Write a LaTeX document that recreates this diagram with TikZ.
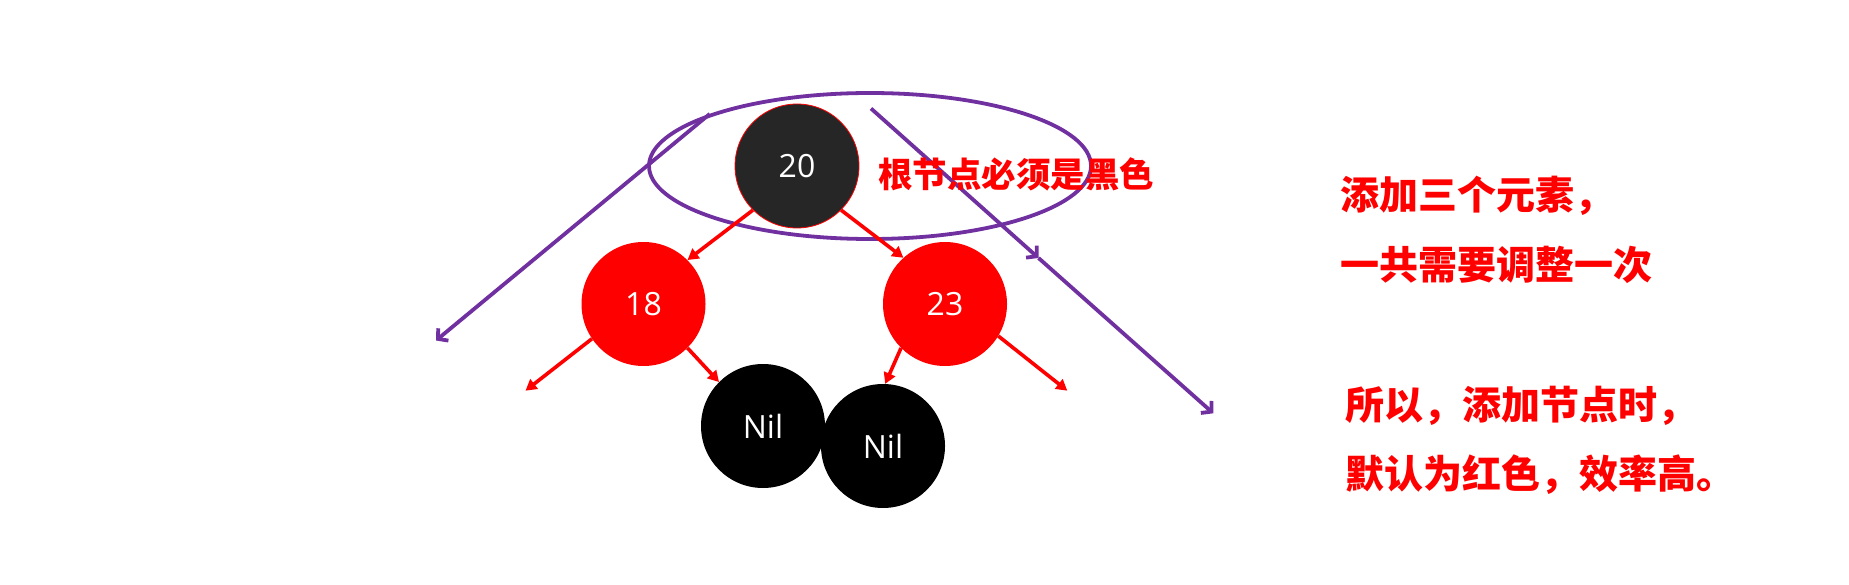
\documentclass[tikz,border=0pt]{standalone}
\usepackage{fontspec}
\newfontfamily\cjk{Noto Sans CJK SC}
\newfontfamily\numfont{Open Sans}
\usetikzlibrary{arrows.meta,shapes.geometric}
\definecolor{pptpurple}{HTML}{7030A0}
\definecolor{rootgray}{HTML}{262626}
\tikzset{
  treenode/.style={circle,minimum size=124pt,inner sep=0pt,text=white,font=\numfont\fontsize{32pt}{36pt}\selectfont},
  redarrow/.style={draw=red,line width=3.6pt,-{Triangle[length=11pt,width=12pt]}},
  purplearrow/.style={draw=pptpurple,line width=3.8pt,-{Straight Barb[length=7pt,width=16pt]}},
  note/.style={anchor=west,inner sep=0pt,text=red,font=\cjk\bfseries\fontsize{39pt}{44pt}\selectfont}
}
\begin{document}
\begin{tikzpicture}[x=1pt,y=-1pt]
\useasboundingbox (0,0) rectangle (1849,585);
% nodes
\node[treenode,fill=rootgray,draw=red,line width=0.8pt] (n20) at (797,166) {20};
\node[treenode,fill=red] (n18) at (643.5,304) {18};
\node[treenode,fill=red] (n23) at (945,304) {23};
\node[treenode,fill=black] (nil1) at (763,426) {Nil};
\node[treenode,fill=black] (nil2) at (883,446) {Nil};
\node[ellipse,draw=pptpurple,line width=3.8pt,minimum width=442pt,minimum height=146pt,inner sep=0pt] (ell) at (870,166) {};
% free coordinates
\coordinate (l18) at (525.5,390.7);
\coordinate (r23) at (1067.3,390.7);
\coordinate (pa1) at (436,340.5);
\coordinate (pb0) at (871,108.5);
\coordinate (pb1) at (1038.5,258);
\coordinate (pb2) at (1213.3,413.3);
% red arrows
\draw[redarrow] (n20.225) -- (n18.45);
\draw[redarrow] (n20.315) -- (n23.132);
\draw[redarrow] (n18.214) -- (l18);
\draw[redarrow] (n18.315) -- (nil1.135);
\draw[redarrow] (n23.225) -- (nil2.88);
\draw[redarrow] (n23.329) -- (r23);
% purple arrows
\draw[purplearrow] (ell.162) -- (pa1);
\draw[purplearrow] (pb0) -- (pb1);
\draw[purplearrow] (pb1) -- (pb2);
% texts
\node[note,font=\cjk\bfseries\fontsize{34.5pt}{40pt}\selectfont] (root) at (878,174) {根节点必须是黑色};
\node[note] (t1) at (1340,196) {添加三个元素，};
\node[note] (t2) at (1340,265) {一共需要调整一次};
\node[note] (t3) at (1345,406) {所以，添加节点时，};
\node[note] (t4) at (1345,475) {默认为红色，效率高。};
\end{tikzpicture}
\end{document}
